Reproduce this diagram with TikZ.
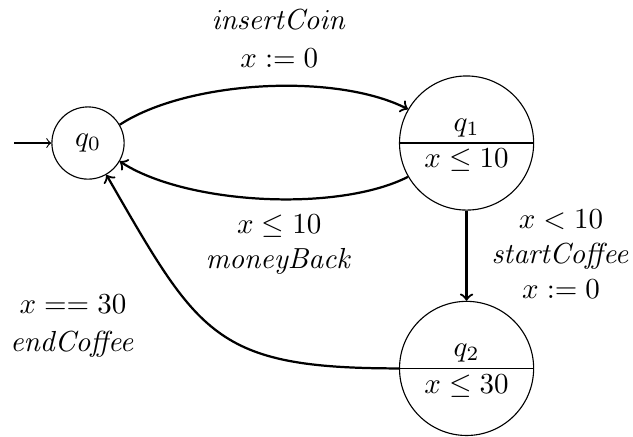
\RequirePackage{fix-cm}
\documentclass[tikz,border=0pt]{standalone}
\usepackage{amsmath, amssymb}
\usepackage{tikz}
\usetikzlibrary{shapes.multipart}
\usetikzlibrary{arrows}

\begin{document}
\begin{tikzpicture}[
  font=\fontsize{10.4}{12.6}\selectfont,
  loc/.style={draw, circle, thin, minimum size=0.91cm, inner sep=1pt},
  inv/.style={draw, circle split, thin, minimum size=1.69cm, inner sep=2pt},
  trans/.style={draw=black, thick, ->},
  lbl/.style={align=center}
]
\useasboundingbox (-1.109,-3.692) rectangle (6.867,1.802);

\node[loc] (q0) at (0,0) {$q_0$};
\node[inv] (q1) at (4.77,0) {$q_1$ \nodepart{lower} $x \leq 10$};
\node[inv] (q2) at (4.77,-2.84) {$q_2$ \nodepart{lower} $x \leq 30$};
\coordinate (init) at (-0.93,0);

\draw[->] (init) -- (q0);

\draw[trans] (q0) to[bend left=30, looseness=0.72] (q1);
\draw[trans] (q1) to[bend left=30, looseness=0.7] (q0);
\draw[trans] (q1) -- (q2);
\draw[trans] (q2.west) to[out=180, in=-60, looseness=1.35] (q0);

\node[lbl] (l01) at (2.41,1.315) {$\mathit{insertCoin}$\\[1pt]$x := 0$};
\node[lbl] (l10) at (2.41,-1.28) {$x \leq 10$\\$\mathit{moneyBack}$};
\node[lbl] (l12) at (5.96,-1.40) {$x < 10$\\$\mathit{startCoffee}$\\$x := 0$};
\node[lbl] (l20) at (-0.19,-2.31) {$x == 30$\\[1pt]$\mathit{endCoffee}$};
\end{tikzpicture}
\end{document}
